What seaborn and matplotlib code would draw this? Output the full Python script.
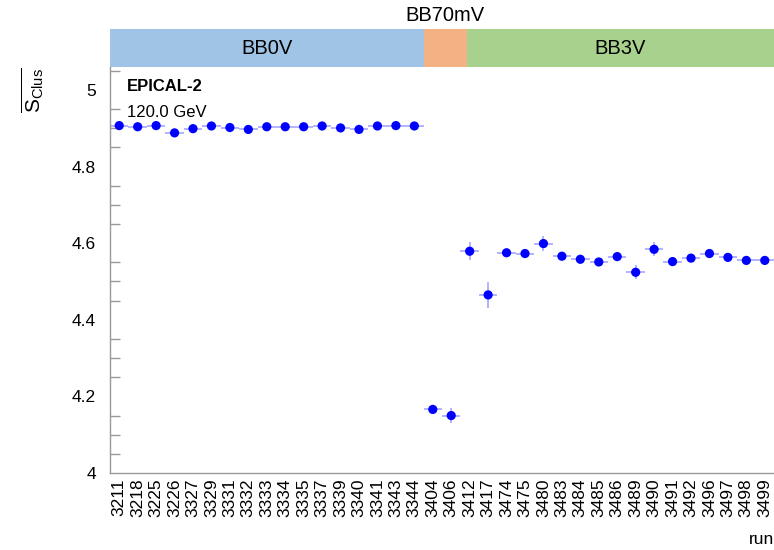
import numpy as np
import pandas as pd
import matplotlib
matplotlib.use("Agg")
import matplotlib.pyplot as plt
import seaborn as sns
from matplotlib.ticker import MultipleLocator

# run numbers and mean cluster size
runs = [3211, 3218, 3225, 3226, 3327, 3329, 3331, 3332, 3333, 3334, 3335, 3337,
        3339, 3340, 3341, 3343, 3344,
        3404, 3406,
        3412, 3417, 3474, 3475, 3480, 3483, 3484, 3485, 3486, 3489, 3490, 3491,
        3492, 3496, 3497, 3498, 3499]
mean_sclus = [4.907, 4.904, 4.907, 4.888, 4.899, 4.906, 4.902, 4.897, 4.904, 4.904,
              4.904, 4.906, 4.901, 4.897, 4.906, 4.907, 4.906,
              4.166, 4.150,
              4.579, 4.465, 4.575, 4.573, 4.599, 4.566, 4.558, 4.551, 4.565, 4.524,
              4.584, 4.552, 4.561, 4.573, 4.563, 4.555, 4.555]
err_sclus = [0.003] * 17 + [0.008, 0.020,
             0.024, 0.034, 0.008, 0.008, 0.020, 0.010, 0.008, 0.006, 0.010, 0.018,
             0.018, 0.006, 0.008, 0.006, 0.008, 0.006, 0.006]

# bias voltage bands (edges in bin units)
band_labels = ["BB0V", "BB70mV", "BB3V"]
band_edges = [-0.5, 16.5, 18.85, 35.5]
band_colors = ["#a0c4e6", "#f4b183", "#a9d18e"]

sns.set_style("white")
plt.rcParams['font.family'] = ['Liberation Sans', 'DejaVu Sans']
plt.rcParams['mathtext.fontset'] = 'custom'
plt.rcParams['mathtext.rm'] = 'Liberation Sans'
plt.rcParams['text.color'] = 'black'
plt.rcParams['axes.labelcolor'] = 'black'
plt.rcParams['xtick.labelcolor'] = 'black'
plt.rcParams['ytick.labelcolor'] = 'black'

df = pd.DataFrame({"run": runs, "pos": np.arange(len(runs)),
                   "sclus": mean_sclus, "err": err_sclus})

fig = plt.figure(figsize=(7.74, 5.5), dpi=100)
ax = fig.add_axes([110 / 774, 77 / 550, 664 / 774, 406 / 550])

ax.errorbar(df["pos"], df["sclus"], yerr=df["err"], xerr=0.5, fmt="none",
            ecolor=(0, 0, 1, 0.35), elinewidth=1.2, capsize=0, zorder=2)
sns.scatterplot(data=df, x="pos", y="sclus", color="#0000ff", s=44,
                edgecolor="none", ax=ax, zorder=3, legend=False)

ax.set_xlim(-0.5, len(runs) - 0.5)
ax.set_ylim(4.0, 5.06)

# x: labels at bin centres, ticks at bin edges
ax.set_xticks(df["pos"])
ax.set_xticklabels([str(r) for r in runs], rotation=90, fontsize=12.5)
ax.set_xticks(np.arange(len(runs) + 1) - 0.5, minor=True)
ax.tick_params(axis="x", which="major", length=0, pad=4)
ax.tick_params(axis="x", which="minor", direction="in", length=9,
               color="#999999", width=1)

ax.yaxis.set_minor_locator(MultipleLocator(0.05))
ax.set_yticks([4.0, 4.2, 4.4, 4.6, 4.8, 5.0])
ax.set_yticklabels(["4", "4.2", "4.4", "4.6", "4.8", "5"], fontsize=12.5)
ax.tick_params(axis="y", which="major", direction="in", length=13.5,
               color="#999999", width=1, pad=10)
ax.tick_params(axis="y", which="minor", direction="in", length=7,
               color="#999999", width=1, left=True)

for side in ["top", "right"]:
    ax.spines[side].set_visible(False)
for side in ["left", "bottom"]:
    ax.spines[side].set_color("#999999")
    ax.spines[side].set_linewidth(1)

ax.set_xlabel("run", loc="right", fontsize=12.5)
ax.xaxis.set_label_coords(1.0, -0.145)
ax.set_ylabel(r"$\overline{\mathrm{S}_{\mathrm{Clus}}}$", loc="top", fontsize=15)
ax.yaxis.set_label_coords(-0.095, 1.0)

ax.text(0.0256, 0.953, "EPICAL-2", transform=ax.transAxes, fontsize=12,
        fontweight="bold", va="center", ha="left")
ax.text(0.0256, 0.888, "120.0 GeV", transform=ax.transAxes, fontsize=12,
        va="center", ha="left")

# band strip above the plot
band = fig.add_axes([110 / 774, 483 / 550, 664 / 774, 38 / 550], sharex=ax)
band.set_ylim(0, 1)
band.axis("off")
for i, lab in enumerate(band_labels):
    lo, hi = band_edges[i], band_edges[i + 1]
    band.axvspan(lo, hi, color=band_colors[i], lw=0)
    if lab == "BB70mV":
        band.text((lo + hi) / 2, 1.1, lab, ha="center", va="bottom", fontsize=14.5)
    else:
        band.text((lo + hi) / 2, 0.5, lab, ha="center", va="center", fontsize=14.5)

fig.savefig("out.png", dpi=100)
